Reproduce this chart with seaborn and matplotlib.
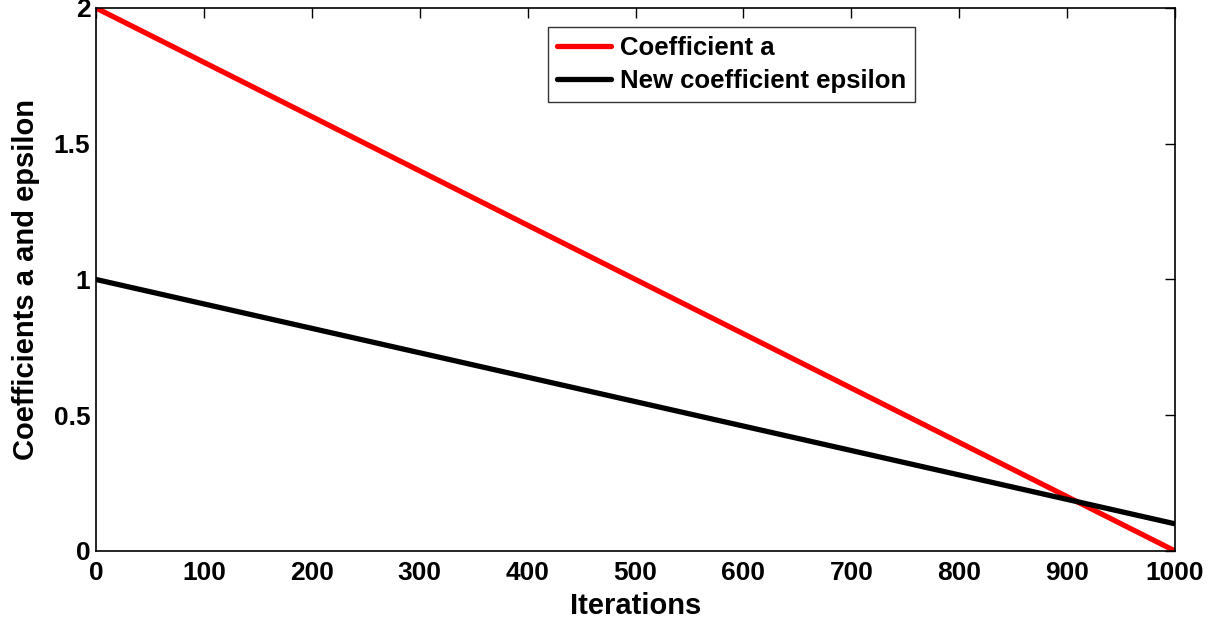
import matplotlib
matplotlib.use("Agg")
import matplotlib.pyplot as plt
import seaborn as sns
import pandas as pd

# Linear decay of the two coefficients over the iterations
iterations = [0, 1000]
coef_a = [2.0, 0.0]
coef_epsilon = [1.0, 0.1]

series_names = ["Coefficient a", "New coefficient epsilon"]
series_colors = ["#ff0000", "#000000"]

df = pd.DataFrame({
    "Iterations": iterations * 2,
    "value": coef_a + coef_epsilon,
    "series": [series_names[0]] * len(iterations) + [series_names[1]] * len(iterations),
})

sns.set_theme(style="white")
plt.rcParams["font.family"] = ["Liberation Sans", "DejaVu Sans"]
plt.rcParams["font.weight"] = "bold"
plt.rcParams["text.color"] = "black"
plt.rcParams["axes.labelcolor"] = "black"
plt.rcParams["xtick.color"] = "black"
plt.rcParams["ytick.color"] = "black"

fig = plt.figure(figsize=(12.29, 6.23), dpi=100)
ax = fig.add_axes([0.0781, 0.1156, 0.8780, 0.8716])

sns.lineplot(data=df, x="Iterations", y="value", hue="series",
             palette=dict(zip(series_names, series_colors)),
             linewidth=3.8, ax=ax)

ax.set_xlim(0, 1000)
ax.set_ylim(0, 2)
ax.set_xticks(range(0, 1001, 100))
ax.set_yticks([0, 0.5, 1, 1.5, 2])
ax.set_yticklabels(["0", "0.5", "1", "1.5", "2"])

ax.tick_params(axis="both", which="both", direction="in", length=7.5, width=1,
               top=True, right=True, labelsize=19, colors="black")
ax.tick_params(axis="x", pad=7)
ax.tick_params(axis="y", pad=4)
for lbl in ax.get_xticklabels() + ax.get_yticklabels():
    lbl.set_fontweight("bold")

for sp in ax.spines.values():
    sp.set_color("black")
    sp.set_linewidth(1.2)

ax.set_xlabel("Iterations", fontsize=21, fontweight="bold", labelpad=5)
ax.set_ylabel("Coefficients a and epsilon", fontsize=21, fontweight="bold", labelpad=10)

leg = ax.legend(loc="upper left", bbox_to_anchor=(0.419, 0.965), borderaxespad=0,
                fontsize=18.5, frameon=True, fancybox=False, handlelength=2.1,
                handletextpad=0.35, borderpad=0.35, labelspacing=0.36)
leg.get_frame().set_edgecolor("black")
leg.get_frame().set_linewidth(1.0)
for t in leg.get_texts():
    t.set_fontweight("bold")
for h in leg.get_lines():
    h.set_linewidth(3.8)

fig.savefig("out.png", dpi=100)
